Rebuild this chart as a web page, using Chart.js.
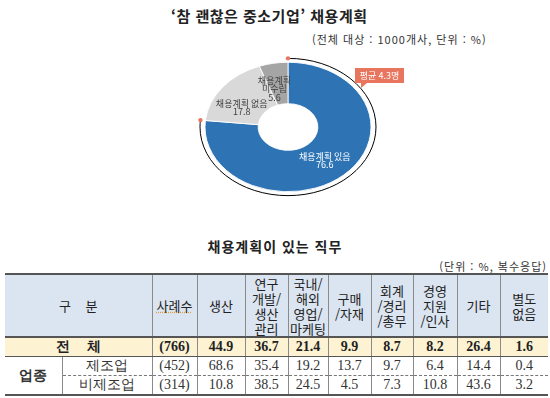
<!DOCTYPE html>
<html lang="ko">
<head>
  <meta charset="UTF-8" />
  <title>참 괜찮은 중소기업 채용계획</title>
  <script src="https://cdn.jsdelivr.net/npm/chart.js"></script>
  <style>
    body {
        margin: 0;
        width: 550px;
        height: 398px;
        background: #fff;
        position: relative;
        overflow: hidden;
        font-family: 'Noto Sans CJK KR', sans-serif;
        color: #222;
    }
    .title {
        position: absolute;
        left: 171px; top: 5px;
        font-size: 15px;
        font-weight: bold;
        letter-spacing: 0.5px;
    }
    .sub {
        position: absolute;
        left: 312px; top: 31px;
        font-size: 11px;
        color: #333;
        letter-spacing: 1px;
    }
    #pieBox {
        position: absolute;
        left: 158px; top: 27px;
        width: 260px; height: 200px;
    }
    .title2 {
        position: absolute;
        left: 0; width: 550px; top: 236px;
        text-align: center;
        font-size: 14px;
        font-weight: bold;
        letter-spacing: 1px;
    }
    .unit2 {
        position: absolute;
        right: 3px; top: 258px;
        font-size: 11px;
        color: #333;
        letter-spacing: 1px;
    }
    table {
        position: absolute;
        left: 5px; top: 273px;
        border-collapse: collapse;
        table-layout: fixed;
        width: 543px;
    }
    td {
        text-align: center;
        padding: 0;
        border-left: 1px solid #8a8a8a;
        font-size: 13px;
    }
    td.first { border-left: none; }
    tr.head td {
        background: #dbe5f1;
        height: 61px;
        line-height: 15px;
        border-top: 2px solid #555;
        border-bottom: 2px solid #555;
    }
    tr.total td {
        background: #fdf3d3;
        height: 17px;
        font-weight: bold;
        font-family: 'Liberation Serif', serif;
        font-size: 14px;
        border-bottom: 1px solid #555;
    }
    tr.sub1 td {
        height: 18px;
        font-family: 'Liberation Serif', serif;
        font-size: 14px;
        color: #333;
        border-bottom: 1px dashed #777;
    }
    tr.sub2 td {
        height: 17px;
        font-family: 'Liberation Serif', serif;
        font-size: 14px;
        color: #333;
        border-bottom: 2px solid #555;
    }
    td.kr { font-family: 'Noto Sans CJK KR', sans-serif; font-size: 13px; }
    td.group {
        font-weight: bold;
        border-bottom: 2px solid #555 !important;
        font-family: 'Noto Sans CJK KR', sans-serif;
        font-size: 13px;
        color: #222;
    }
    .squiggle {
        text-decoration: underline dotted #e59a3c;
    }
  </style>
</head>
<body>
  <div class="title">‘참 괜찮은 중소기업’ 채용계획</div>
  <div class="sub">(전체 대상 : 1000개사, 단위 : %)</div>
  <div id="pieBox"><canvas id="planChart"></canvas></div>

  <div class="title2">채용계획이 있는 직무</div>
  <div class="unit2">(단위 : %, 복수응답)</div>
  <table id="jobTable"></table>

  <script>
    // 채용계획 (도넛)
    const planLabels = [['채용계획 있음'], ['채용계획 없음'], ['채용계획', '미수립']];
    const planValues = [76.6, 17.8, 5.6];
    const planColors = ['#2e74b5', '#d9d9d9', '#a5a5a5'];
    const avgText = '평균 4.3명';

    // 채용계획이 있는 직무 (표)
    const jobColumns = [['사례수'], ['생산'], ['연구', '개발/', '생산', '관리'], ['국내/', '해외', '영업/', '마케팅'],
      ['구매', '/자재'], ['회계', '/경리', '/총무'], ['경영', '지원', '/인사'], ['기타'], ['별도', '없음']];
    const totalRow = ['(766)', '44.9', '36.7', '21.4', '9.9', '8.7', '8.2', '26.4', '1.6'];
    const mfgRow = ['(452)', '68.6', '35.4', '19.2', '13.7', '9.7', '6.4', '14.4', '0.4'];
    const nonMfgRow = ['(314)', '10.8', '38.5', '24.5', '4.5', '7.3', '10.8', '43.6', '3.2'];
    const colWidths = [57, 90, 45, 48, 43, 40, 43, 42, 44, 43, 48];

    // table
    const table = document.getElementById('jobTable');
    let html = '<colgroup>' + colWidths.map(w => '<col style="width:' + w + 'px">').join('') + '</colgroup>';
    html += '<tr class="head"><td class="first" colspan="2">구&nbsp;&nbsp;&nbsp;&nbsp;분</td>';
    jobColumns.forEach((c, i) => {
      const txt = c.join('<br>');
      html += '<td>' + (i === 0 ? '<span class="squiggle">' + txt + '</span>' : txt) + '</td>';
    });
    html += '</tr>';
    html += '<tr class="total"><td class="first kr" colspan="2" style="font-weight:bold">전&nbsp;&nbsp;&nbsp;&nbsp;&nbsp;체</td>' +
      totalRow.map(v => '<td>' + v + '</td>').join('') + '</tr>';
    html += '<tr class="sub1"><td class="first group" rowspan="2">업종</td><td class="kr">제조업</td>' +
      mfgRow.map(v => '<td>' + v + '</td>').join('') + '</tr>';
    html += '<tr class="sub2"><td class="kr">비제조업</td>' +
      nonMfgRow.map(v => '<td>' + v + '</td>').join('') + '</tr>';
    table.innerHTML = html;

    // doughnut drawn as a flattened ellipse
    const squash = 0.78;
    // small label nudges per slice [dx, dy]
    const labelNudge = [[0, 2], [-3, 7], [-4, 4]];
    const ellipsePlugin = {
      id: 'ellipse',
      beforeDatasetsDraw(chart) {
        const arc = chart.getDatasetMeta(0).data[0];
        const ctx = chart.ctx;
        ctx.save();
        ctx.translate(arc.x, arc.y);
        ctx.scale(1, squash);
        ctx.translate(-arc.x, -arc.y);
      },
      afterDatasetsDraw(chart) {
        const ctx = chart.ctx;
        const meta = chart.getDatasetMeta(0);
        const first = meta.data[0];
        const cx = first.x, cy = first.y, r = first.outerRadius + 5;
        // orange outline around the "있음" share
        ctx.strokeStyle = '#e8765f';
        ctx.lineWidth = 1.3;
        ctx.beginPath();
        ctx.arc(cx, cy, r, first.startAngle, first.endAngle);
        ctx.restore();
        ctx.stroke();

        ctx.fillStyle = '#e8765f';
        [first.startAngle, first.endAngle].forEach(a => {
          ctx.beginPath();
          ctx.arc(cx + r * Math.cos(a), cy + r * Math.sin(a) * squash, 2.2, 0, Math.PI * 2);
          ctx.fill();
        });

        // callout
        const bx = cx + 67, by = cy - 59, bw = 49, bh = 15;
        ctx.beginPath();
        ctx.moveTo(bx, by);
        ctx.lineTo(bx + bw, by);
        ctx.lineTo(bx + bw, by + bh);
        ctx.lineTo(bx + 12, by + bh);
        ctx.lineTo(bx + 6, by + bh + 5);
        ctx.lineTo(bx + 6, by + bh);
        ctx.lineTo(bx, by + bh);
        ctx.closePath();
        ctx.fill();
        ctx.fillStyle = '#fff';
        ctx.font = '9px "Noto Sans CJK KR"';
        ctx.textAlign = 'center';
        ctx.textBaseline = 'middle';
        ctx.fillText(avgText, bx + bw / 2, by + bh / 2 + 0.5);

        // slice labels
        meta.data.forEach((arc, i) => {
          const mid = (arc.startAngle + arc.endAngle) / 2;
          const rr = arc.outerRadius * 0.66;
          const x = cx + rr * Math.cos(mid) + labelNudge[i][0];
          const y = cy + rr * Math.sin(mid) * squash + labelNudge[i][1];
          const lines = planLabels[i].concat([planValues[i].toFixed(1)]);
          ctx.fillStyle = i === 0 ? '#fff' : '#404040';
          ctx.font = '9px "Noto Sans CJK KR"';
          const lh = 8.5;
          lines.forEach((t, j) => {
            ctx.fillText(t, x, y + (j - (lines.length - 1) / 2) * lh);
          });
        });
      }
    };

    new Chart(document.getElementById('planChart'), {
      type: 'doughnut',
      data: {
        labels: planLabels.map(l => l.join(' ')),
        datasets: [{
          data: planValues,
          backgroundColor: planColors,
          borderColor: '#fff',
          borderWidth: 1
        }]
      },
      options: {
        responsive: true,
        maintainAspectRatio: false,
        animation: false,
        radius: 83,
        cutout: '36%',
        layout: { padding: 0 },
        plugins: {
          legend: { display: false },
          tooltip: { enabled: false }
        }
      },
      plugins: [ellipsePlugin]
    });
  </script>
</body>
</html>
